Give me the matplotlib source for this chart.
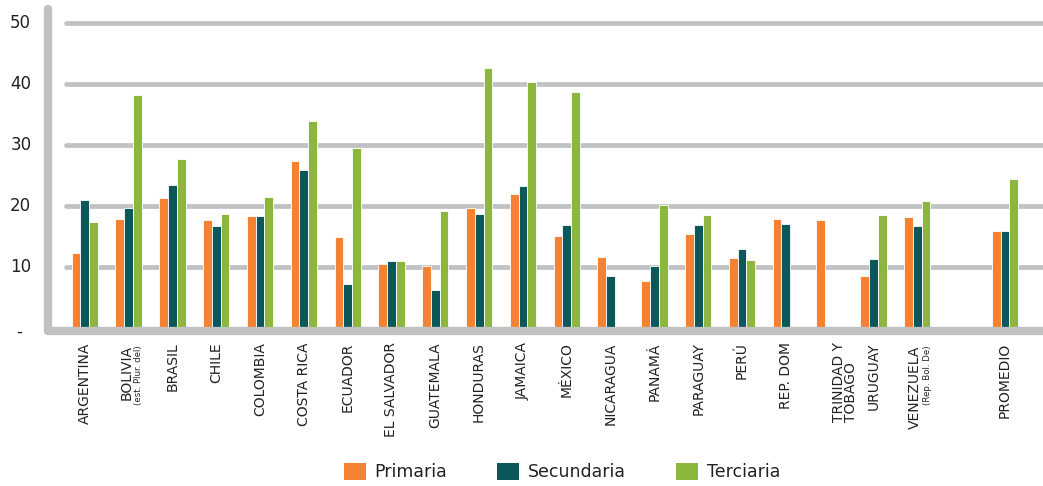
import matplotlib.pyplot as plt
from matplotlib.patches import Patch

# Tasa por nivel educativo, por pais
paises = ["ARGENTINA", "BOLIVIA", "BRASIL", "CHILE", "COLOMBIA", "COSTA RICA",
          "ECUADOR", "EL SALVADOR", "GUATEMALA", "HONDURAS", "JAMAICA", "MÉXICO",
          "NICARAGUA", "PANAMÁ", "PARAGUAY", "PERÚ", "REP. DOM", "TRINIDAD Y\nTOBAGO",
          "URUGUAY", "VENEZUELA", "PROMEDIO"]
notas = {"BOLIVIA": "(est. Plur. del)", "VENEZUELA": "(Rep. Bol. De)"}

primaria = [12.3, 17.9, 21.3, 17.7, 18.3, 27.4, 14.9, 10.4, 10.1, 19.6, 22.0,
            15.1, 11.6, 7.7, 15.3, 11.5, 17.9, 17.6, 8.4, 18.1, 15.9]
secundaria = [21.0, 19.6, 23.4, 16.6, 18.3, 25.8, 7.1, 10.9, 6.2, 18.6, 23.3,
              16.8, 8.4, 10.2, 16.8, 12.9, 17.0, None, 11.3, 16.6, 15.9]
terciaria = [17.4, 38.1, 27.6, 18.7, 21.5, 33.9, 29.5, 10.9, 19.1, 42.5, 40.2,
             38.7, None, 20.2, 18.5, 11.1, None, None, 18.4, 20.7, 24.4]

series = ["Primaria", "Secundaria", "Terciaria"]
colores = ["#f58233", "#0b5759", "#8cb63e"]
gris = "#bfc1c2"

# el promedio va separado por un hueco
pos = list(range(20)) + [21]

fig = plt.figure(figsize=(10.43, 4.86), dpi=100)
ax = fig.add_axes([48 / 1043, 0.3068, 1 - 48 / 1043, 0.6779])
ax.set_xlim(-0.84, 21.87)
ax.set_ylim(-1.5, 52.5)
ax.axis("off")

# lineas guia
for v in [10, 20, 30, 40, 50]:
    ax.plot([-0.43, 21.87], [v, v], color=gris, lw=3.4, solid_capstyle="round", zorder=1)

ancho = 0.2
for k, (vals, col) in enumerate(zip([primaria, secundaria, terciaria], colores)):
    xs = [p + (k - 1) * ancho for p, v in zip(pos, vals) if v is not None]
    hs = [v for v in vals if v is not None]
    ax.bar(xs, hs, width=ancho, color=col, edgecolor="white", linewidth=0.6, zorder=2)

# ejes
ax.plot([-0.84, -0.84], [-0.5, 52.2], color=gris, lw=6, solid_capstyle="round",
        clip_on=False, zorder=3)
ax.plot([-0.84, 21.87], [-0.5, -0.5], color=gris, lw=6, solid_capstyle="round",
        clip_on=False, zorder=3)

ty = ax.get_yaxis_transform()
for v in [10, 20, 30, 40, 50]:
    ax.text(-0.038, v, str(v), transform=ty, ha="left", va="center",
            fontsize=12, color="#222222")
ax.text(-0.032, -0.6, "-", transform=ty, ha="left", va="center", fontsize=12, color="#222222")

tx = ax.get_xaxis_transform()
for p, nombre in zip(pos, paises):
    if nombre in notas:
        ax.text(p - 0.05, -0.025, nombre, transform=tx, rotation=90, ha="center",
                va="top", fontsize=10, color="#222222")
        ax.text(p + 0.23, -0.025, notas[nombre], transform=tx, rotation=90, ha="center",
                va="top", fontsize=6.2, color="#222222")
    else:
        ax.text(p + (0.35 if "\n" in nombre else 0), -0.017, nombre, transform=tx,
                rotation=90, ha="center", va="top", fontsize=10, color="#222222",
                multialignment="left", linespacing=0.85)

handles = [Patch(facecolor=c, edgecolor="none") for c in colores]
fig.legend(handles, series, loc="center", bbox_to_anchor=(562 / 1043, 1 - 472 / 486),
           ncol=3, frameon=False, fontsize=12.5, handlelength=1.25, handleheight=1.2,
           handletextpad=0.5, columnspacing=2.9, labelcolor="#222222")

fig.savefig("out.png", dpi=100)
